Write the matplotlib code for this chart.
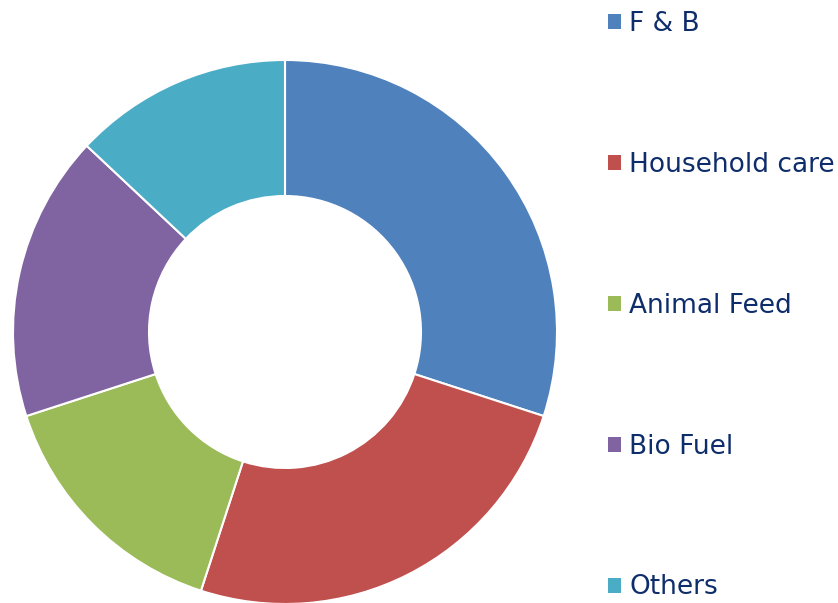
import matplotlib.pyplot as plt
from matplotlib.patches import Patch

labels = ["F & B", "Household care", "Animal Feed", "Bio Fuel", "Others"]
shares = [30, 25, 15, 17, 13]
colors = ["#4F81BD", "#C0504D", "#9BBB59", "#8064A2", "#4BACC6"]
text_color = "#0E2D6B"

fig = plt.figure(figsize=(8.38, 6.03), dpi=100)
ax = fig.add_axes([13 / 838, -1 / 603, 544 / 838, 544 / 603])
ax.pie(
    shares,
    colors=colors,
    startangle=90,
    counterclock=False,
    radius=1.0,
    wedgeprops=dict(width=0.5, edgecolor="white", linewidth=1.5),
)
ax.set_xlim(-1, 1)
ax.set_ylim(-1, 1)
ax.set_aspect("equal")

handles = [Patch(facecolor=c, edgecolor="none") for c in colors]
leg = fig.legend(
    handles,
    labels,
    loc="upper left",
    bbox_to_anchor=(603 / 838, 1 - 6 / 603),
    frameon=False,
    fontsize=19,
    labelcolor=text_color,
    handlelength=0.5,
    handleheight=0.5,
    handletextpad=0.3,
    labelspacing=4.35,
    borderaxespad=0.0,
    borderpad=0.2,
)

fig.savefig("out.png", dpi=100)
